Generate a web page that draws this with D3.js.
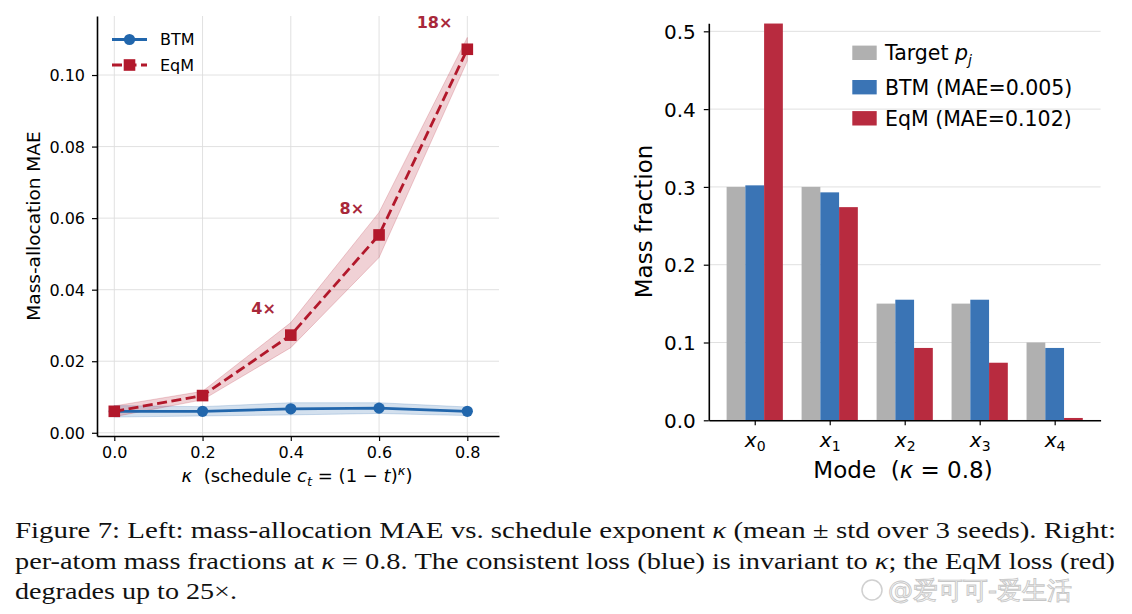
<!DOCTYPE html>
<html>
<head>
<meta charset="utf-8">
<script src="https://cdn.jsdelivr.net/npm/d3@7"></script>
<style>
  body { margin: 0; background: #fff; }
  svg { display: block; }
  text { font-family: "DejaVu Sans", sans-serif; white-space: pre; }
  .caption text, text.caption { font-family: "Liberation Serif", "Times New Roman", serif; }
</style>
</head>
<body>
<svg id="fig" width="1132" height="614"></svg>
<script>
// ---- left panel data: MAE vs kappa (mean and std over 3 seeds)
const kappas = [0.0, 0.2, 0.4, 0.6, 0.8];
const btmMean = [0.0060, 0.0060, 0.0067, 0.0069, 0.0060];
const btmStd = [0.0016, 0.0013, 0.0017, 0.0015, 0.0012];
const eqmMean = [0.0060, 0.0104, 0.0273, 0.0553, 0.1072];
const eqmStd = [0.0015, 0.0012, 0.0035, 0.0063, 0.0033];
const ratioKappa = [0.4, 0.6, 0.8];
const ratioLabels = ['4×', '8×', '18×'];
const leftXTicks = [0.0, 0.2, 0.4, 0.6, 0.8];
const leftYTicks = [0.00, 0.02, 0.04, 0.06, 0.08, 0.10];

// ---- right panel data: mass fractions at kappa = 0.8
const modeIdx = ['0', '1', '2', '3', '4'];
const targetP = [0.300, 0.300, 0.150, 0.150, 0.100];
const btmFrac = [0.302, 0.293, 0.155, 0.155, 0.093];
const eqmFrac = [0.510, 0.274, 0.093, 0.074, 0.003];
const rightYTicks = [0.0, 0.1, 0.2, 0.3, 0.4, 0.5];

const blue = '#2166ac', red = '#b2182b';
const barGray = '#b0b0b0', barBlue = '#3a74b5', barRed = '#b82b3f';

const svg = d3.select('#fig');
svg.append('rect').attr('width', 1132).attr('height', 614).attr('fill', '#fff');

// ================= LEFT PANEL =================
const xL = d3.scaleLinear().domain([-0.0392, 0.8718]).range([97, 499]);
const yL = d3.scaleLinear().domain([-0.0009, 0.1165]).range([436, 16]);

const left = svg.append('g');

// grid
left.append('g').selectAll('line').data(leftXTicks).join('line')
  .attr('x1', d => xL(d)).attr('x2', d => xL(d))
  .attr('y1', yL.range()[0]).attr('y2', yL.range()[1])
  .attr('stroke', '#dedede').attr('stroke-width', 0.9);
left.append('g').selectAll('line').data(leftYTicks).join('line')
  .attr('x1', xL.range()[0]).attr('x2', xL.range()[1])
  .attr('y1', d => yL(d)).attr('y2', d => yL(d))
  .attr('stroke', '#dedede').attr('stroke-width', 0.9);

const rows = kappas.map((k, i) => ({
  k, bm: btmMean[i], bs: btmStd[i], em: eqmMean[i], es: eqmStd[i]
}));

const band = (m, s) => d3.area().x(d => xL(d.k)).y0(d => yL(d[m] - d[s])).y1(d => yL(d[m] + d[s]));
const line = m => d3.line().x(d => xL(d.k)).y(d => yL(d[m]));

left.append('path').datum(rows).attr('d', band('bm', 'bs'))
  .attr('fill', blue).attr('fill-opacity', 0.2)
  .attr('stroke', blue).attr('stroke-opacity', 0.2).attr('stroke-width', 1);
left.append('path').datum(rows).attr('d', band('em', 'es'))
  .attr('fill', red).attr('fill-opacity', 0.2)
  .attr('stroke', red).attr('stroke-opacity', 0.2).attr('stroke-width', 1);

left.append('path').datum(rows).attr('d', line('bm'))
  .attr('fill', 'none').attr('stroke', blue).attr('stroke-width', 2.8);
left.append('g').selectAll('circle').data(rows).join('circle')
  .attr('cx', d => xL(d.k)).attr('cy', d => yL(d.bm)).attr('r', 5.6).attr('fill', blue);

left.append('path').datum(rows).attr('d', line('em'))
  .attr('fill', 'none').attr('stroke', red).attr('stroke-width', 2.8)
  .attr('stroke-dasharray', '10,4.5');
left.append('g').selectAll('rect').data(rows).join('rect')
  .attr('x', d => xL(d.k) - 5.8).attr('y', d => yL(d.em) - 5.8)
  .attr('width', 11.6).attr('height', 11.6).attr('fill', red);

// ratio annotations
left.append('g').selectAll('text').data(ratioKappa).join('text')
  .attr('x', d => xL(d) - 15)
  .attr('y', d => yL(eqmMean[kappas.indexOf(d)]) - 27)
  .attr('dy', '0.36em')
  .attr('text-anchor', 'end')
  .attr('font-size', 16).attr('font-weight', 'bold').attr('fill', '#a8283a')
  .text((d, i) => ratioLabels[i]);

// axes
const axLy = left.append('g').attr('transform', `translate(${xL.range()[0]},0)`)
  .call(d3.axisLeft(yL).tickValues(leftYTicks).tickFormat(d3.format('.2f'))
    .tickSize(5).tickPadding(7).tickSizeOuter(0));
const axLx = left.append('g').attr('transform', `translate(0,${yL.range()[0]})`)
  .call(d3.axisBottom(xL).tickValues(leftXTicks).tickFormat(d3.format('.1f'))
    .tickSize(5).tickPadding(6).tickSizeOuter(0));
[axLy, axLx].forEach(a => {
  a.select('.domain').attr('stroke', '#000').attr('stroke-width', 1.6);
  a.selectAll('.tick line').attr('stroke', '#000').attr('stroke-width', 1.2);
  a.selectAll('.tick text').attr('font-size', 16).attr('fill', '#000')
    .attr('font-family', '"DejaVu Sans", sans-serif');
});
axLy.selectAll('.tick text').attr('dy', '0.36em');

// axis labels
left.append('text')
  .attr('transform', 'translate(40,226) rotate(-90)')
  .attr('text-anchor', 'middle').attr('font-size', 18.5)
  .text('Mass-allocation MAE');

const xlab = left.append('text').attr('x', 297).attr('y', 482)
  .attr('text-anchor', 'middle').attr('font-size', 18);
xlab.append('tspan').attr('font-style', 'italic').text('κ');
xlab.append('tspan').text('  (schedule ');
xlab.append('tspan').attr('font-style', 'italic').text('c');
xlab.append('tspan').attr('font-style', 'italic').attr('font-size', 13).attr('dy', 4).text('t');
xlab.append('tspan').attr('dy', -4).text(' = (1 − ');
xlab.append('tspan').attr('font-style', 'italic').text('t');
xlab.append('tspan').text(')');
xlab.append('tspan').attr('font-style', 'italic').attr('font-size', 13).attr('dy', -7).text('κ');
xlab.append('tspan').attr('dy', 7).text(')');

// legend
const legL = left.append('g');
const legItems = [
  { name: 'BTM', color: blue, dash: null, marker: 'circle' },
  { name: 'EqM', color: red, dash: '10,4.5', marker: 'square' }
];
legItems.forEach((it, i) => {
  const y = 39.5 + i * 25.5;
  legL.append('line').attr('x1', 112).attr('x2', 147).attr('y1', y).attr('y2', y)
    .attr('stroke', it.color).attr('stroke-width', 2.8)
    .attr('stroke-dasharray', it.dash);
  if (it.marker === 'circle') {
    legL.append('circle').attr('cx', 129.5).attr('cy', y).attr('r', 5.6).attr('fill', it.color);
  } else {
    legL.append('rect').attr('x', 129.5 - 5.8).attr('y', y - 5.8)
      .attr('width', 11.6).attr('height', 11.6).attr('fill', it.color);
  }
  legL.append('text').attr('x', 160).attr('y', y).attr('dy', '0.36em')
    .attr('font-size', 16).text(it.name);
});

// ================= RIGHT PANEL =================
const xR = d3.scaleLinear().domain([-0.6125, 4.6125]).range([708.8, 1100.6]);
const yR = d3.scaleLinear().domain([0, 0.5103]).range([420.3, 23.3]);
const barW = 0.25;

const right = svg.append('g');

right.append('g').selectAll('line').data(rightYTicks).join('line')
  .attr('x1', xR.range()[0]).attr('x2', xR.range()[1])
  .attr('y1', d => yR(d)).attr('y2', d => yR(d))
  .attr('stroke', '#e0e0e0').attr('stroke-width', 1);

const series = [
  { name: 'Target', vals: targetP, color: barGray, off: -1 },
  { name: 'BTM (MAE=0.005)', vals: btmFrac, color: barBlue, off: 0 },
  { name: 'EqM (MAE=0.102)', vals: eqmFrac, color: barRed, off: 1 }
];
series.forEach(s => {
  right.append('g').selectAll('rect').data(s.vals).join('rect')
    .attr('x', (d, i) => xR(i + s.off * barW - barW / 2))
    .attr('width', xR(barW) - xR(0))
    .attr('y', d => yR(d))
    .attr('height', d => yR(0) - yR(d))
    .attr('fill', s.color);
});

const axRy = right.append('g').attr('transform', `translate(${xR.range()[0]},0)`)
  .call(d3.axisLeft(yR).tickValues(rightYTicks).tickFormat(d3.format('.1f'))
    .tickSize(5).tickPadding(8).tickSizeOuter(0));
const axRx = right.append('g').attr('transform', `translate(0,${yR.range()[0]})`)
  .call(d3.axisBottom(xR).tickValues(d3.range(modeIdx.length)).tickFormat('')
    .tickSize(5).tickSizeOuter(0));
[axRy, axRx].forEach(a => {
  a.select('.domain').attr('stroke', '#000').attr('stroke-width', 1.6);
  a.selectAll('.tick line').attr('stroke', '#000').attr('stroke-width', 1.2);
  a.selectAll('.tick text').attr('font-size', 20).attr('fill', '#000')
    .attr('font-family', '"DejaVu Sans", sans-serif');
});
axRy.selectAll('.tick text').attr('dy', '0.36em');
axRx.selectAll('.tick text').remove();
axRx.selectAll('.tick').each(function (d) {
  const t = d3.select(this).append('text').attr('y', 27).attr('text-anchor', 'middle')
    .attr('fill', '#000').attr('font-size', 20)
    .attr('font-family', '"DejaVu Sans", sans-serif');
  t.append('tspan').attr('font-style', 'italic').text('x');
  t.append('tspan').attr('font-size', 14).attr('dy', 4).text(modeIdx[d]);
});

right.append('text')
  .attr('transform', 'translate(652,221.5) rotate(-90)')
  .attr('text-anchor', 'middle').attr('font-size', 23)
  .text('Mass fraction');

const xlabR = right.append('text').attr('x', 903).attr('y', 478)
  .attr('text-anchor', 'middle').attr('font-size', 23);
xlabR.append('tspan').text('Mode  (');
xlabR.append('tspan').attr('font-style', 'italic').text('κ');
xlabR.append('tspan').text(' = 0.8)');

// legend
const legRy = [52.8, 87.2, 118.3];
series.forEach((s, i) => {
  right.append('rect').attr('x', 852.3).attr('y', legRy[i] - 7.2)
    .attr('width', 24.4).attr('height', 14.4).attr('fill', s.color);
  const t = right.append('text').attr('x', 885).attr('y', legRy[i]).attr('dy', '0.36em')
    .attr('font-size', 20.5);
  if (i === 0) {
    t.append('tspan').text('Target ');
    t.append('tspan').attr('font-style', 'italic').text('p');
    t.append('tspan').attr('font-style', 'italic').attr('font-size', 14).attr('dy', 5).text('j');
  } else {
    t.text(s.name);
  }
});

// ================= CAPTION =================
const cap = svg.append('g').attr('class', 'caption');
const capLines = [
  { y: 538, len: 1101, parts: [['Figure 7: Left: mass-allocation MAE vs. schedule exponent ', 0], ['κ', 1], [' (mean ± std over 3 seeds). Right:', 0]] },
  { y: 569, len: 1100, parts: [['per-atom mass fractions at ', 0], ['κ', 1], [' = 0.8. The consistent loss (blue) is invariant to ', 0], ['κ', 1], ['; the EqM loss (red)', 0]] },
  { y: 599, len: 222, parts: [['degrades up to 25×.', 0]] }
];
capLines.forEach(l => {
  const t = cap.append('text').attr('x', 15).attr('y', l.y)
    .attr('font-size', 24).attr('fill', '#111')
    .attr('textLength', l.len).attr('lengthAdjust', 'spacingAndGlyphs');
  l.parts.forEach(p => {
    t.append('tspan').attr('font-style', p[1] ? 'italic' : null).text(p[0]);
  });
});

// watermark
const wm = svg.append('g').attr('opacity', 0.55);
wm.append('circle').attr('cx', 872).attr('cy', 590).attr('r', 10)
  .attr('fill', 'none').attr('stroke', '#aaa').attr('stroke-width', 1.5);
wm.append('text').attr('x', 888).attr('y', 599)
  .attr('font-family', '"Noto Sans CJK SC", sans-serif').attr('font-size', 25)
  .attr('fill', '#f2f2f2').attr('stroke', '#999').attr('stroke-width', 0.9)
  .text('@爱可可-爱生活');
</script>
</body>
</html>
